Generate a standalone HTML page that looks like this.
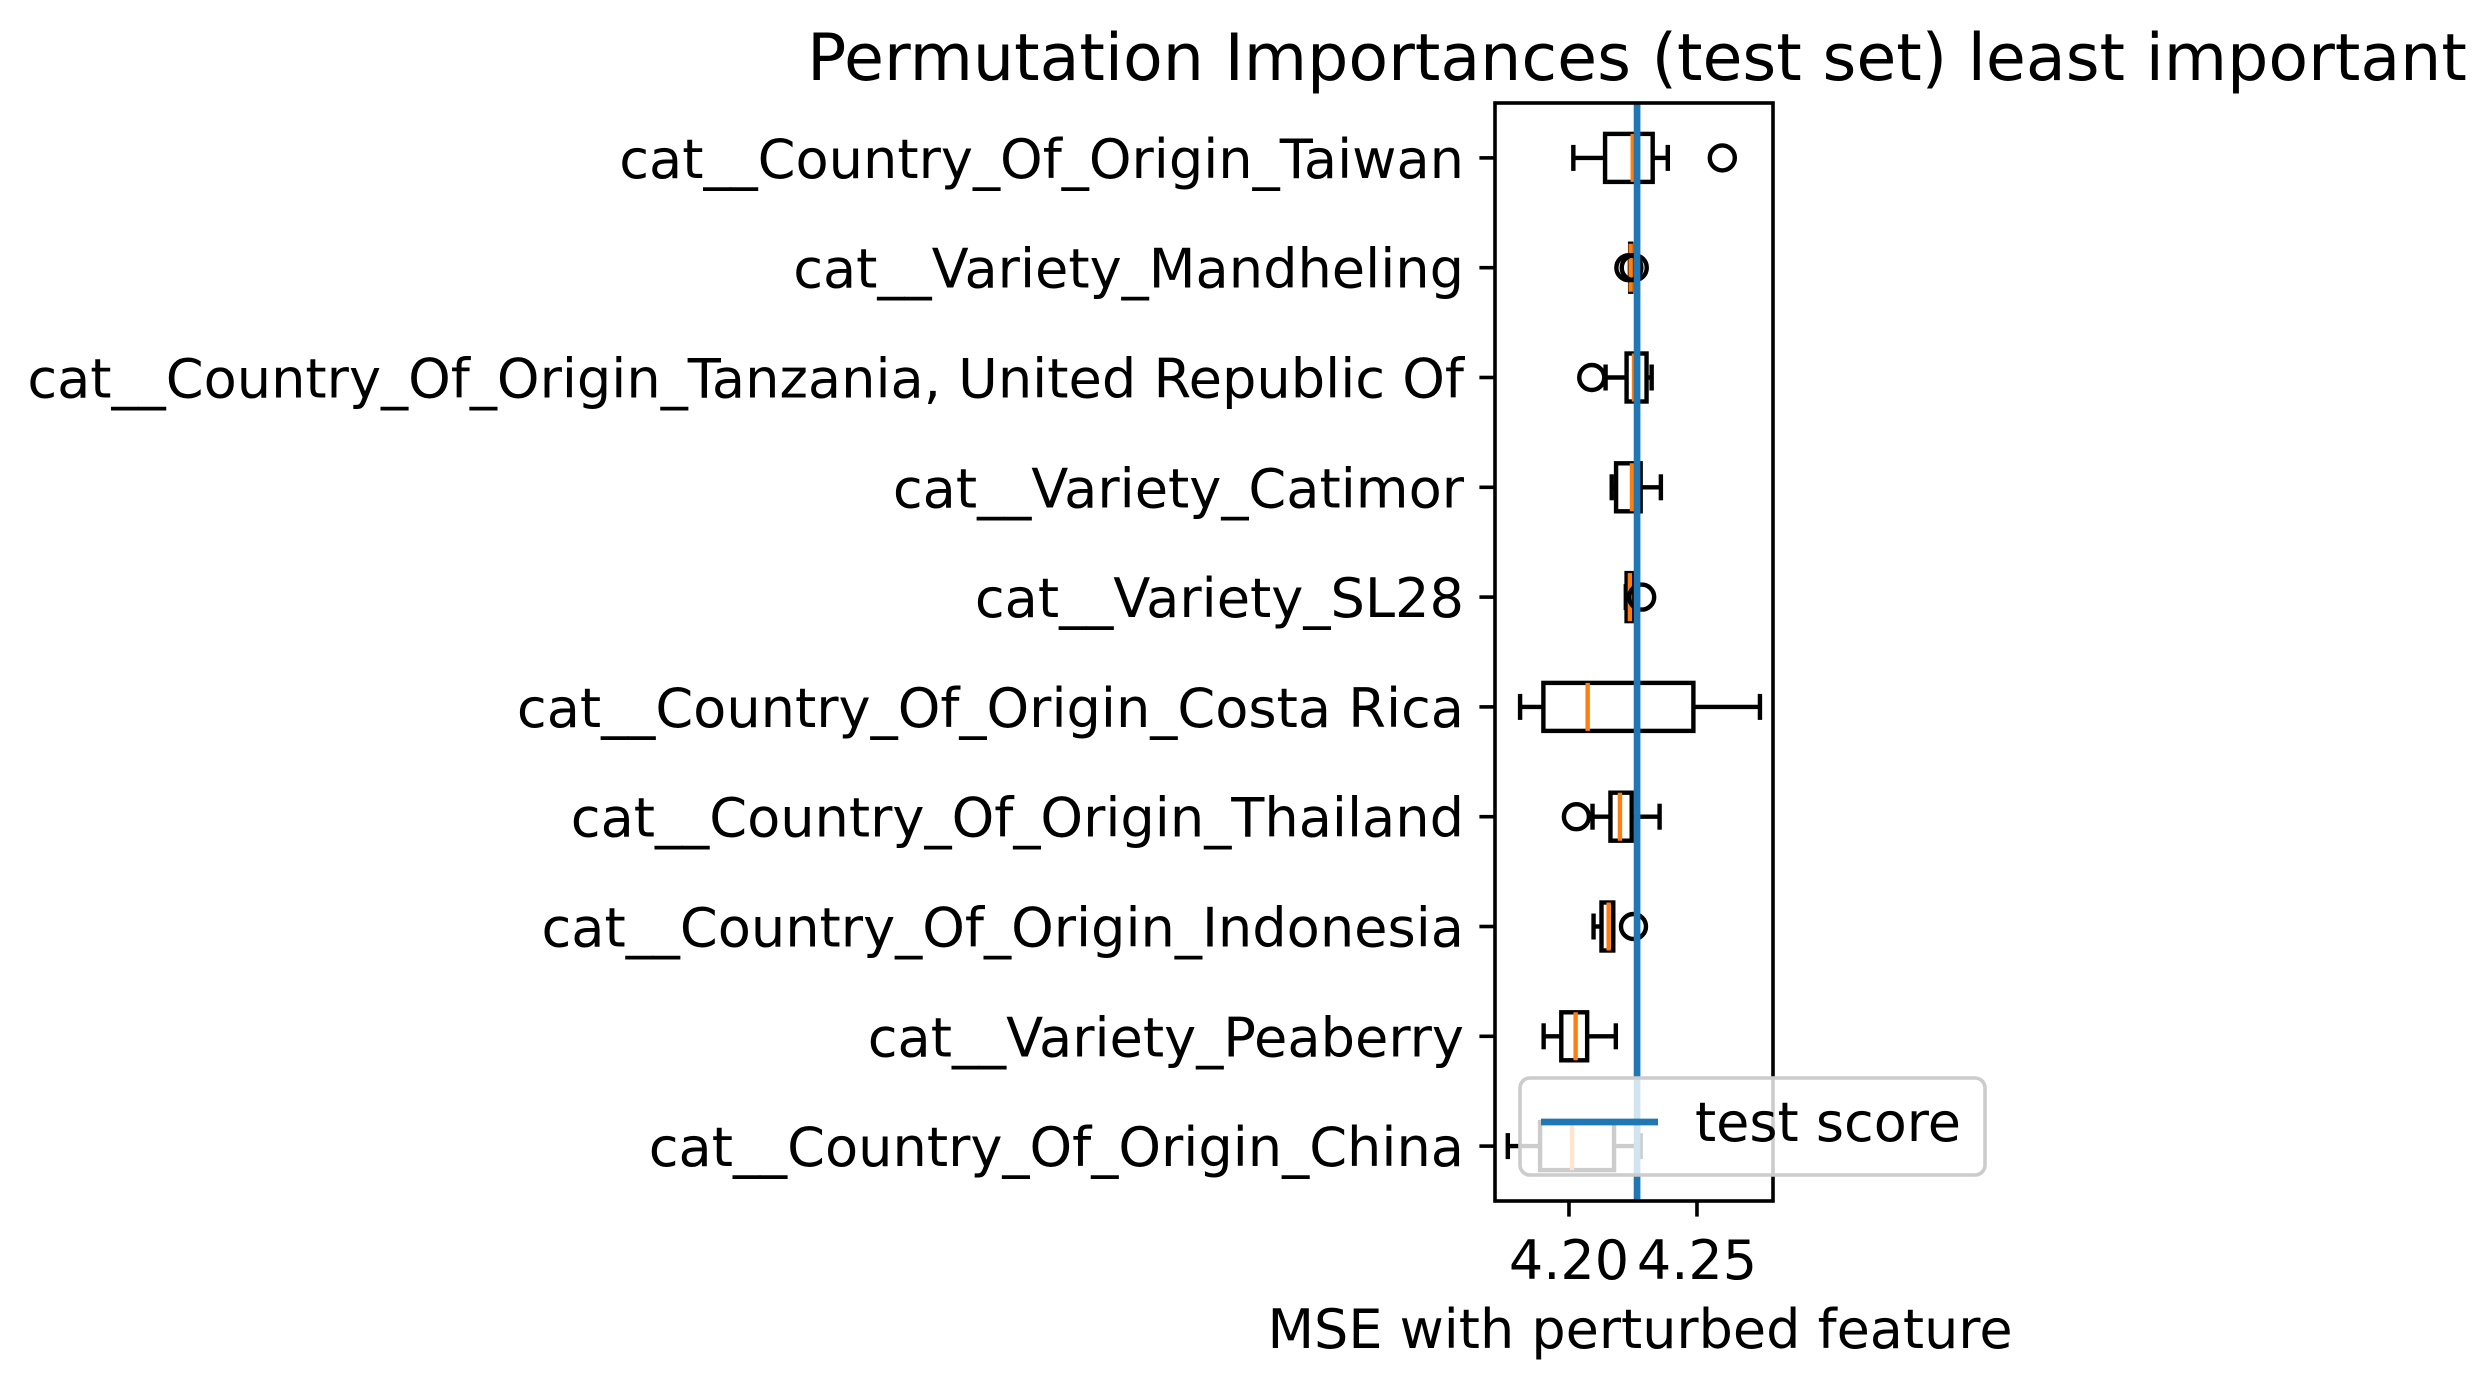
<!DOCTYPE html>
<html><head><meta charset="utf-8"><style>
html,body{margin:0;padding:0;background:#fff;}
svg{display:block;font-family:"DejaVu Sans","Liberation Sans",sans-serif;}
</style></head><body>
<svg id="chart" width="2492" height="1381" viewBox="0 0 2492 1381" xmlns="http://www.w3.org/2000/svg">
<rect width="2492" height="1381" fill="#fff"/>
<text x="1637" y="80" font-size="65" text-anchor="middle">Permutation Importances (test set) least important</text>
<g id="plot"></g>
<text x="1640" y="1348" font-size="54" text-anchor="middle">MSE with perturbed feature</text>
</svg>
<script>
const categories = ["cat__Country_Of_Origin_Taiwan","cat__Variety_Mandheling","cat__Country_Of_Origin_Tanzania, United Republic Of","cat__Variety_Catimor","cat__Variety_SL28","cat__Country_Of_Origin_Costa Rica","cat__Country_Of_Origin_Thailand","cat__Country_Of_Origin_Indonesia","cat__Variety_Peaberry","cat__Country_Of_Origin_China"];
const whiskerLow = [4.2017,4.2238,4.2143,4.2167,4.2222,4.1809,4.2092,4.2096,4.1901,4.1761];
const q1 = [4.2141,4.2239,4.2225,4.2184,4.2225,4.1900,4.2162,4.2127,4.1970,4.1887];
const medians = [4.2249,4.2241,4.2254,4.2246,4.2238,4.2073,4.2199,4.2155,4.2026,4.2012];
const q3 = [4.2327,4.2243,4.2303,4.2280,4.2249,4.2486,4.2245,4.2173,4.2071,4.2176];
const whiskerHigh = [4.2386,4.2244,4.2323,4.2359,4.2250,4.2746,4.2354,4.2173,4.2183,4.2280];
const fliers = [[4.2599],[4.2234,4.2255],[4.2089],[],[4.2284],[],[4.2029],[4.2252],[],[]];
const testScore = 4.2266;
const xTicks = [4.20,4.25];
const xTickLabels = ["4.20","4.25"];

const L=1495,R=1773,T=103,B=1201, xMin=4.1711, xMax=4.2797;
const NS="http://www.w3.org/2000/svg";
const g=document.getElementById('plot');
const X=v=>L+(v-xMin)/(xMax-xMin)*(R-L);
const n=categories.length;
const Y=i=>T+(i+0.5)*(B-T)/n;
function el(tag,attrs,parent){const e=document.createElementNS(NS,tag);for(const k in attrs)e.setAttribute(k,attrs[k]);(parent||g).appendChild(e);return e;}
const hw=24, cw=13;
categories.forEach((c,i)=>{
  const y=Y(i);
  const grp=el('g',{});
  
  
  const st={stroke:'#000','stroke-width':4.4,fill:'none'};
  el('line',Object.assign({x1:X(whiskerLow[i]),x2:X(q1[i]),y1:y,y2:y},st),grp);
  el('line',Object.assign({x1:X(q3[i]),x2:X(whiskerHigh[i]),y1:y,y2:y},st),grp);
  el('line',Object.assign({x1:X(whiskerLow[i]),x2:X(whiskerLow[i]),y1:y-cw,y2:y+cw},st),grp);
  el('line',Object.assign({x1:X(whiskerHigh[i]),x2:X(whiskerHigh[i]),y1:y-cw,y2:y+cw},st),grp);
  el('rect',Object.assign({x:X(q1[i]),y:y-hw,width:Math.max(0.5,X(q3[i])-X(q1[i])),height:2*hw},st),grp);
  el('line',{x1:X(medians[i]),x2:X(medians[i]),y1:y-hw,y2:y+hw,stroke:'#ff7f0e','stroke-width':4.4},grp);
  fliers[i].forEach(f=>{
    const cc=el('circle',{cx:X(f),cy:y,r:12.5,fill:'none',stroke:'#000','stroke-width':4.4},grp);
    
    
  });
  el('line',{x1:L-15.6,x2:L,y1:y,y2:y,stroke:'#000','stroke-width':3.6});
  const t=el('text',{x:L-31,y:y+20,'font-size':54.2,'text-anchor':'end'});
  t.textContent=c;
  
  
});
const ts=el('line',{x1:X(testScore),x2:X(testScore),y1:T,y2:B,stroke:'#1f77b4','stroke-width':6.7});


const ax=el('rect',{x:L,y:T,width:R-L,height:B-T,fill:'none',stroke:'#000','stroke-width':3.6});


xTicks.forEach((v,k)=>{
  el('line',{x1:X(v),x2:X(v),y1:B,y2:B+15.6,stroke:'#000','stroke-width':3.6});
  const t=el('text',{x:X(v),y:1279,'font-size':54,'text-anchor':'middle'});
  t.textContent=xTickLabels[k];
  
  
});
const lg=el('g',{});


el('rect',{x:1520,y:1078,width:465,height:97,rx:10,fill:'#fff','fill-opacity':0.8,stroke:'#cccccc','stroke-width':3.6},lg);
el('line',{x1:1541,x2:1658,y1:1122,y2:1122,stroke:'#1f77b4','stroke-width':6.7},lg);
const lt=el('text',{x:1695,y:1141,'font-size':54},lg);
lt.textContent='test score';


</script>
</body></html>
